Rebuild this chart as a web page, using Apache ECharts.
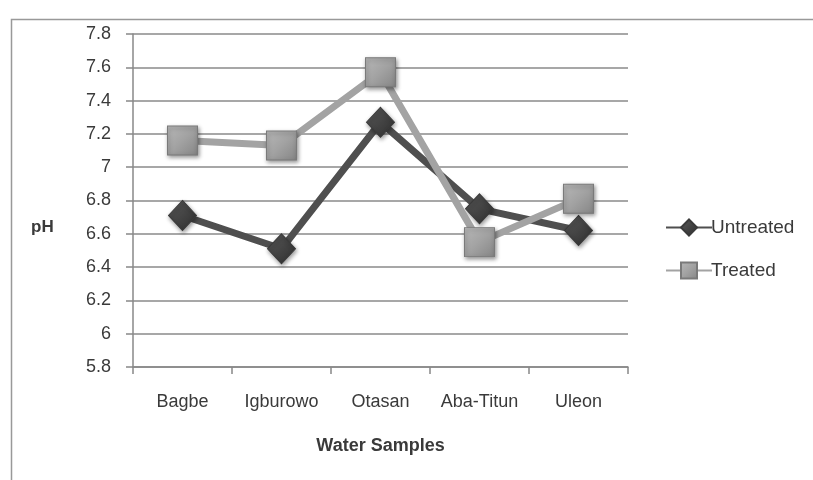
<!DOCTYPE html>
<html><head><meta charset="utf-8">
<script src="https://cdn.jsdelivr.net/npm/echarts@6/dist/echarts.min.js"></script>
<style>html,body{margin:0;padding:0;background:#fff}#c{width:813px;height:480px}</style>
</head><body><div id="c"></div>
<script>
const categories = ['Bagbe', 'Igburowo', 'Otasan', 'Aba-Titun', 'Uleon'];
const untreated = [6.71, 6.51, 7.27, 6.75, 6.62];
const treated = [7.16, 7.13, 7.57, 6.55, 6.81];
const yTicks = { min: 5.8, max: 7.8, interval: 0.2 };

const FONT = 'Liberation Sans';
const TXT = '#3a3a3a';
const chart = echarts.init(document.getElementById('c'), null, { renderer: 'canvas' });
chart.setOption({
  animation: false,
  backgroundColor: '#fff',
  graphic: [{
    type: 'rect', left: 9, top: 17, silent: true, z: -10,
    shape: { width: 820, height: 480 },
    style: { fill: 'none', stroke: '#999', lineWidth: 1.5 }
  }, {
    type: 'text', left: 31, top: 219, silent: true,
    style: { text: 'pH', fontFamily: FONT, fontSize: 17, fontWeight: 'bold', fill: TXT }
  }],
  grid: { left: 133, right: 185, top: 34, bottom: 113, containLabel: false },
  legend: {
    orient: 'vertical', left: 660, top: 213, itemGap: 24,
    itemWidth: 46, itemHeight: 20,
    textStyle: { fontFamily: FONT, fontSize: 19, color: TXT, padding: [0, 0, 0, -6] },
    data: ['Untreated', 'Treated']
  },
  xAxis: {
    type: 'category', data: categories, boundaryGap: true,
    name: 'Water Samples', nameLocation: 'middle', nameGap: 70,
    nameTextStyle: { fontFamily: FONT, fontSize: 18, fontWeight: 'bold', color: TXT },
    axisLine: { lineStyle: { color: '#888', width: 1.5 } },
    axisTick: { show: true, interval: 0, alignWithLabel: false, length: 7, lineStyle: { color: '#888', width: 1.5 } },
    axisLabel: { interval: 0, hideOverlap: false, fontFamily: FONT, fontSize: 18, color: TXT, margin: 26 }
  },
  yAxis: {
    type: 'value', min: yTicks.min, max: yTicks.max, interval: yTicks.interval,
    axisLine: { show: true, lineStyle: { color: '#888', width: 1.5 } },
    axisTick: { show: true, length: 7, lineStyle: { color: '#888', width: 1.5 } },
    splitLine: { lineStyle: { color: '#8a8a8a', width: 1.5 } },
    axisLabel: { fontFamily: FONT, fontSize: 18, color: TXT, margin: 22,
      formatter: v => String(+v.toFixed(1)) }
  },
  series: [
    {
      name: 'Untreated', type: 'line', data: untreated,
      symbol: 'diamond', symbolSize: [28, 30], z: 2,
      lineStyle: { color: '#4f4f4f', width: 7 },
      itemStyle: {
        color: new echarts.graphic.LinearGradient(0, 0, 1, 1, [
          { offset: 0, color: '#5a5a5a' }, { offset: 1, color: '#2e2e2e' }]),
        borderColor: '#3a3a3a', borderWidth: 1,
        shadowBlur: 4, shadowColor: 'rgba(0,0,0,0.4)', shadowOffsetX: 1, shadowOffsetY: 2
      }
    },
    {
      name: 'Treated', type: 'line', data: treated,
      symbol: 'rect', symbolSize: [30, 29], z: 3,
      lineStyle: { color: '#a3a3a3', width: 7 },
      itemStyle: {
        color: new echarts.graphic.LinearGradient(0, 0, 1, 1, [
          { offset: 0, color: '#b8b8b8' }, { offset: 0.5, color: '#a2a2a2' }, { offset: 1, color: '#858585' }]),
        borderColor: '#7a7a7a', borderWidth: 1,
        shadowBlur: 4, shadowColor: 'rgba(0,0,0,0.4)', shadowOffsetX: 1, shadowOffsetY: 2
      }
    }
  ]
});
</script></body></html>
